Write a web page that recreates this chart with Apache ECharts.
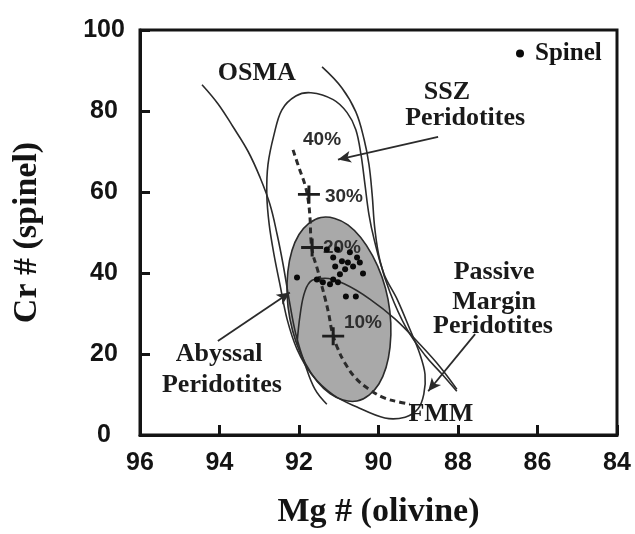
<!DOCTYPE html>
<html><head><meta charset="utf-8">
<script src="https://cdn.jsdelivr.net/npm/echarts@6/dist/echarts.min.js"></script>
<style>html,body{margin:0;padding:0;background:#fff}#c{width:635px;height:534px}</style>
</head><body><div id="c"></div>
<script>
// ---- axis ticks ----
const xTicks = [96, 94, 92, 90, 88, 86, 84];
const yTicks = [0, 20, 40, 60, 80, 100];

// ---- spinel analyses: Mg# (olivine), Cr# (spinel) ----
const spinelMg = [91.04, 90.72, 90.54, 90.92, 90.77, 91.09, 90.64, 90.84, 90.97, 91.14, 91.22, 91.40, 92.05, 90.39, 90.82, 90.57, 91.30, 90.47, 91.14, 91.55, 91.02];
const spinelCr = [45.8, 45.1, 43.8, 42.9, 42.6, 41.6, 41.6, 40.9, 39.7, 38.4, 37.2, 37.7, 38.9, 39.9, 34.2, 34.2, 45.8, 42.6, 43.8, 38.4, 37.7];

// ---- field outlines (Mg#, Cr#) ----
const osmaLeft = [[94.44,86.5],[94.04,81.8],[93.66,76.1],[93.28,70.0],[92.98,63.6],[92.73,56.9],[92.55,49.5],[92.40,42.1],[92.25,33.5],[92.08,24.9],[91.85,17.5],[91.60,11.3],[91.30,7.6]];
const osmaRight = [[91.42,90.9],[90.92,85.7],[90.57,79.8],[90.36,72.9],[90.24,66.8],[90.16,59.4],[90.09,50.7],[89.96,42.9],[89.71,35.2],[89.31,26.6],[88.83,19.7],[88.40,15.0],[88.03,10.8]];
const sszLoop = [[91.70,84.5],[91.14,82.8],[90.79,79.6],[90.57,75.4],[90.44,69.2],[90.34,61.8],[90.24,54.4],[90.11,48.3],[89.86,39.7],[89.53,33.5],[89.21,26.1],[88.96,20.0],[88.83,15.0],[88.86,10.1],[89.01,6.4],[89.33,4.4],[89.84,4.2],[90.54,6.9],[91.14,9.9],[91.67,14.8],[92.05,21.2],[92.30,28.6],[92.48,37.2],[92.63,44.6],[92.75,52.0],[92.81,59.4],[92.78,66.8],[92.63,74.1],[92.43,80.3],[92.08,83.7]];
const passiveCurve = [[92.05,22.4],[91.97,29.8],[91.85,35.5],[91.67,38.2],[91.35,38.7],[90.84,37.2],[90.21,33.5],[89.58,28.6],[88.96,22.4],[88.45,16.8],[88.03,11.3]];
const abyssalField = [[90.54,8.4],[89.99,12.6],[89.71,21.7],[89.76,33.5],[90.15,44.3],[90.77,51.9],[91.45,53.7],[92.00,49.5],[92.28,40.4],[92.23,28.7],[91.84,17.7],[91.22,10.2]];

// ---- FMM melting trend ----
const fmmTrend = [[92.15,70.4],[92.00,66.0],[91.85,61.8],[91.77,58.1],[91.72,53.2],[91.70,48.3],[91.65,44.6],[91.55,41.4],[91.45,37.7],[91.35,34.0],[91.25,29.8],[91.17,25.6],[91.04,21.7],[90.84,17.7],[90.57,14.0],[90.21,11.1],[89.84,9.1],[89.46,8.1],[89.21,7.6]];
const meltMarks = [[91.75,59.4],[91.67,46.3],[91.14,24.4]];
const meltLabels = ['40%', '30%', '20%', '10%'];
const meltLabelAt = [[91.42,72.9],[90.87,58.9],[90.92,46.3],[90.39,27.8]];

// ---- annotations ----
const fieldText = ['OSMA', 'SSZ', 'Peridotites', 'Passive', 'Margin', 'Peridotites', 'Abyssal', 'Peridotites', 'FMM'];
const fieldTextAt = [[93.06,89.4],[88.28,84.7],[87.82,78.3],[87.09,40.2],[87.09,32.8],[87.12,26.9],[94.01,20.0],[93.94,12.3],[88.43,5.2]];
const arrowFrom = [[88.50,73.6],[94.04,23.2],[87.57,24.9]];
const arrowTo = [[91.02,68.0],[92.23,35.2],[88.75,10.8]];

const SERIF = "'Liberation Serif','Times New Roman',serif";
const SANS = "'Liberation Sans',Arial,sans-serif";
const INK = '#141414';
const LINE = '#2b2b2b';

const chart = echarts.init(document.getElementById('c'), null, {renderer: 'canvas'});

function polygonSeries(name, pts, fill, z) {
  return {
    type: 'custom', name: name, z: z, silent: true,
    data: [0],
    renderItem: function (params, api) {
      return {
        type: 'polygon',
        shape: {points: pts.map(p => api.coord(p)), smooth: 0.35},
        style: {fill: fill, stroke: LINE, lineWidth: 1.6}
      };
    }
  };
}
function curveSeries(name, pts, z, extra) {
  return Object.assign({
    type: 'line', name: name, data: pts, smooth: 0.4, showSymbol: false, symbol: 'none',
    silent: true, z: z, lineStyle: {color: LINE, width: 1.6}
  }, extra || {});
}

const option = {
  animation: false,
  backgroundColor: '#fff',
  grid: {left: 140, right: 18, top: 30, bottom: 98, show: true, borderColor: INK, borderWidth: 3, backgroundColor: 'transparent'},
  legend: {
    data: ['Spinel'], left: 511, top: 36, icon: 'circle', itemWidth: 8, itemHeight: 8,
    textStyle: {fontFamily: SERIF, fontWeight: 'bold', fontSize: 25, color: INK, padding: [0, 0, 0, 6]}
  },
  xAxis: {
    type: 'value', min: 84, max: 96, interval: 2, inverse: true,
    name: 'Mg # (olivine)', nameLocation: 'middle', nameGap: 60,
    nameTextStyle: {fontFamily: SERIF, fontWeight: 'bold', fontSize: 34, color: INK},
    axisLine: {show: true, onZero: false, lineStyle: {color: INK, width: 3}},
    axisTick: {show: true, inside: true, length: 10, lineStyle: {color: INK, width: 3}},
    axisLabel: {fontFamily: SANS, fontWeight: 'bold', fontSize: 25, color: INK, margin: 16,
      formatter: v => xTicks.indexOf(v) >= 0 ? String(v) : ''},
    splitLine: {show: false}
  },
  yAxis: {
    type: 'value', min: 0, max: 100, interval: 20,
    name: 'Cr # (spinel)', nameLocation: 'middle', nameGap: 96, nameRotate: 90,
    nameTextStyle: {fontFamily: SERIF, fontWeight: 'bold', fontSize: 34, color: INK},
    axisLine: {show: true, onZero: false, lineStyle: {color: INK, width: 3}},
    axisTick: {show: true, inside: true, length: 10, lineStyle: {color: INK, width: 3}},
    axisLabel: {fontFamily: SANS, fontWeight: 'bold', fontSize: 25, color: INK, margin: 36, align: 'center',
      formatter: v => yTicks.indexOf(v) >= 0 ? String(v) : ''},
    splitLine: {show: false}
  },
  series: [
    polygonSeries('Abyssal field', abyssalField, '#a9a9a9', 1),
    polygonSeries('SSZ field', sszLoop, 'none', 2),
    curveSeries('OSMA left', osmaLeft, 2),
    curveSeries('OSMA right', osmaRight, 2),
    curveSeries('Passive margin', passiveCurve, 2),
    curveSeries('FMM', fmmTrend, 3, {lineStyle: {color: LINE, width: 3, type: [6, 4]}}),
    {
      type: 'scatter', name: 'melt marks', silent: true, z: 4,
      symbol: 'path://M0,8H22V11H0Z M9.5,0H12.5V19H9.5Z', symbolSize: [22, 18],
      itemStyle: {color: '#1e1e1e', opacity: 1}, data: meltMarks
    },
    {
      type: 'scatter', name: 'Spinel', z: 6, symbol: 'circle', symbolSize: 6,
      itemStyle: {color: '#0a0a0a', opacity: 1},
      data: spinelMg.map((m, i) => [m, spinelCr[i]])
    },
    {
      type: 'scatter', name: 'melt labels', silent: true, z: 5, symbolSize: 0,
      itemStyle: {opacity: 1},
      data: meltLabels.map((t, i) => ({name: t, value: meltLabelAt[i]})),
      label: {show: true, position: 'inside', formatter: '{b}', fontFamily: SANS, fontWeight: 'bold', fontSize: 19, color: '#2e2e2e'}
    },
    {
      type: 'scatter', name: 'field labels', silent: true, z: 5, symbolSize: 0,
      itemStyle: {opacity: 1},
      data: fieldText.map((t, i) => ({name: t, value: fieldTextAt[i]})),
      label: {show: true, position: 'inside', formatter: '{b}', fontFamily: SERIF, fontWeight: 'bold', fontSize: 26, color: '#1a1a1a'}
    },
    {
      type: 'line', name: 'arrows', data: [], silent: true, z: 4,
      markLine: {
        silent: true, symbol: ['none', 'arrow'], symbolSize: [9, 13],
        label: {show: false},
        lineStyle: {color: LINE, width: 1.8, type: 'solid'},
        data: arrowFrom.map((f, i) => [{coord: f}, {coord: arrowTo[i]}])
      }
    }
  ]
};
chart.setOption(option);
</script>
</body></html>
